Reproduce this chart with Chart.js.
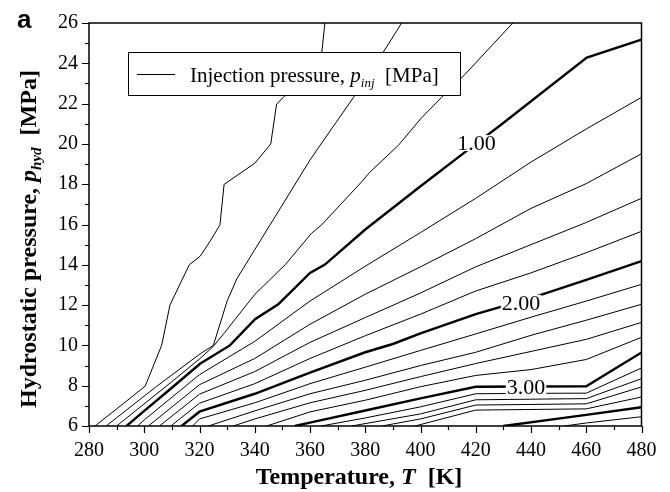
<!DOCTYPE html>
<html>
<head>
<meta charset="utf-8">
<script src="https://cdn.jsdelivr.net/npm/chart.js@4.4.0/dist/chart.umd.min.js"></script>
<style>
body { margin: 0; background: #fff; }
canvas { display: block; background: #fff; }
</style>
</head>
<body>
<canvas id="chart" width="670" height="492"></canvas>
<script>
// contour lines of injection pressure, [T (K), p_hyd (MPa)]
var line04 = [[282.2,6],[300.3,7.97],[306.3,10],[309.3,12],[313.5,13.2],[316.3,14.0],[320.2,14.42],[323.8,15.16],[327.4,15.98],[328.9,17.99],[340.1,19.05],[345.8,20.0],[347.9,21.98],[350.3,22.3],[364.2,24.44],[365.4,26]];
var line06 = [[286.2,6],[304.5,7.97],[320.2,9.58],[325,10],[330,12.2],[333.5,13.3],[340,14.75],[360,19.2],[363,19.8],[375.7,22.3],[386,24.44],[393.2,26]];
var line08 = [[290,6],[310,8.2],[320.2,9.35],[325,9.95],[329.2,10.65],[332.9,11.3],[340.1,12.54],[351,14.0],[360.6,15.57],[364.2,15.98],[378.7,18.12],[381.7,18.6],[392,19.93],[400.4,21.3],[407.6,22.3],[416.1,23.45],[433.4,26]];
var line10 = [[293.6,6],[300,6.75],[310,7.9],[320.2,9.09],[331,10],[340.1,11.3],[348.5,12.04],[360,13.6],[365.4,14.01],[380,15.75],[400,17.9],[420,20.0],[428.8,20.91],[460.2,24.28],[480,25.18]];
var line12 = [[297.6,6],[300,6.3],[320,8.55],[340,10.2],[360,12.2],[380,13.93],[400,15.6],[420,17.3],[440,19.1],[460,20.74],[480,22.31]];
var line14 = [[301.5,6],[320,8.05],[340,9.35],[360,11.05],[380,12.54],[400,13.9],[420,15.3],[440,16.8],[460,18.03],[480,19.51]];
var line16 = [[305.5,6],[320,7.58],[340,8.7],[360,10.15],[380,11.38],[400,12.6],[420,13.9],[440,15.0],[460,16.1],[480,17.3]];
var line18 = [[309.6,6],[320,7.13],[340,8.1],[360,9.35],[380,10.48],[400,11.55],[420,12.7],[440,13.6],[460,14.6],[480,15.66]];
var line20 = [[313.5,6],[320,6.71],[340,7.6],[360,8.65],[380,9.66],[390,10.07],[400,10.6],[420,11.55],[440,12.35],[460,13.25],[480,14.18]];
var line22 = [[317.5,6],[320,6.35],[340,7.15],[360,8.1],[380,8.92],[400,9.75],[420,10.57],[440,11.4],[460,12.2],[480,13.03]];
var line24 = [[323.2,6],[340,6.75],[360,7.6],[380,8.27],[400,9.0],[420,9.66],[440,10.5],[460,11.25],[480,12.04]];
var line26 = [[332.2,6],[340,6.35],[360,7.15],[380,7.77],[400,8.45],[420,9.1],[440,9.7],[460,10.3],[480,11.14]];
var line28 = [[344.3,6],[360,6.7],[380,7.28],[400,7.95],[420,8.51],[440,8.8],[460,9.3],[480,10.4]];
var line30 = [[354.5,6],[360,6.17],[380,6.77],[400,7.37],[420,7.95],[460,7.97],[480,9.65]];
var line32 = [[364,6],[380,6.4],[400,6.95],[420,7.6],[440,7.62],[460,7.63],[480,8.88]];
var line34 = [[375,6],[400,6.6],[420,7.3],[440,7.33],[460,7.36],[480,8.35]];
var line36 = [[386,6],[400,6.35],[420,7.04],[440,7.07],[460,7.1],[480,7.94]];
var line38 = [[398,6],[420,6.79],[440,6.82],[460,6.85],[480,7.44]];
var line40 = [[430,6],[460,6.55],[480,6.93]];
var line42 = [[452,6],[460,6.15],[480,6.46]];

var levels = [0.4, 0.6, 0.8, 1.0, 1.2, 1.4, 1.6, 1.8, 2.0, 2.2, 2.4, 2.6, 2.8, 3.0, 3.2, 3.4, 3.6, 3.8, 4.0, 4.2];
var contourLines = [line04, line06, line08, line10, line12, line14, line16, line18, line20, line22,
                    line24, line26, line28, line30, line32, line34, line36, line38, line40, line42];

// in-line contour labels
var labelTexts = ['1.00', '2.00', '3.00'];
var labelT = [420.3, 436.4, 438.2];
var labelP = [20.04, 12.11, 7.92];

var serif = "'Liberation Serif', 'Times New Roman', serif";

var datasets = contourLines.map(function(pts, i) {
    var thick = Math.abs(levels[i] - Math.round(levels[i])) < 1e-6;
    return {
        label: levels[i].toFixed(2),
        data: pts.map(function(p) { return {x: p[0], y: p[1]}; }),
        showLine: true,
        borderColor: '#000',
        borderWidth: thick ? 2.4 : 1,
        pointRadius: 0,
        fill: false,
        tension: 0
    };
});

function drawRich(ctx, parts, x, y) {
    var total = 0;
    parts.forEach(function(p) {
        ctx.font = p.font;
        p.w = ctx.measureText(p.text).width;
        total += p.w;
    });
    var cx = x - total / 2;
    ctx.textAlign = 'left';
    ctx.textBaseline = 'alphabetic';
    parts.forEach(function(p) {
        ctx.font = p.font;
        ctx.fillText(p.text, cx, y + (p.dy || 0));
        cx += p.w;
    });
}

var decorPlugin = {
    id: 'decor',
    afterDatasetsDraw: function(chart) {
        var ctx = chart.ctx;
        var xs = chart.scales.x, ys = chart.scales.y;
        var area = chart.chartArea;
        ctx.save();
        ctx.fillStyle = '#000';

        // contour labels with a white gap behind
        ctx.font = '22px ' + serif;
        labelTexts.forEach(function(t, i) {
            var px = xs.getPixelForValue(labelT[i]);
            var py = ys.getPixelForValue(labelP[i]);
            var w = ctx.measureText(t).width;
            ctx.fillStyle = '#fff';
            ctx.fillRect(px - w / 2 - 1, py - 8, w + 2, 16);
            ctx.fillStyle = '#000';
            ctx.textAlign = 'center';
            ctx.textBaseline = 'middle';
            ctx.fillText(t, px, py + 1);
        });

        // legend box
        ctx.fillStyle = '#fff';
        ctx.fillRect(128.5, 52.5, 332, 43);
        ctx.strokeStyle = '#000';
        ctx.lineWidth = 1;
        ctx.strokeRect(128.5, 52.5, 332, 43);
        ctx.beginPath();
        ctx.moveTo(137, 74.5);
        ctx.lineTo(175, 74.5);
        ctx.stroke();
        ctx.fillStyle = '#000';
        var legParts = [
            {text: 'Injection pressure, ', font: '21px ' + serif},
            {text: 'p', font: 'italic 21px ' + serif},
            {text: 'inj', font: 'italic 13px ' + serif, dy: 5},
            {text: '  [MPa]', font: '21px ' + serif}
        ];
        var lw = 0;
        legParts.forEach(function(p) { ctx.font = p.font; lw += ctx.measureText(p.text).width; });
        drawRich(ctx, legParts, 190 + lw / 2, 82);

        // frame
        ctx.strokeStyle = '#000';
        ctx.lineWidth = 1.5;
        ctx.strokeRect(area.left, area.top, area.right - area.left, area.bottom - area.top);

        // outside ticks, major and minor
        ctx.lineWidth = 1.2;
        ctx.beginPath();
        for (var t = 280; t <= 480; t += 10) {
            var x = Math.round(xs.getPixelForValue(t)) + 0.5;
            var len = (t % 20 === 0) ? 7 : 4;
            ctx.moveTo(x, area.bottom);
            ctx.lineTo(x, area.bottom + len);
        }
        for (var p = 6; p <= 26; p += 1) {
            var y = Math.round(ys.getPixelForValue(p)) + 0.5;
            var len2 = (p % 2 === 0) ? 7 : 4;
            ctx.moveTo(area.left, y);
            ctx.lineTo(area.left - len2, y);
        }
        ctx.stroke();

        // axis titles
        ctx.fillStyle = '#000';
        drawRich(ctx, [
            {text: 'Temperature, ', font: 'bold 24px ' + serif},
            {text: 'T', font: 'bold italic 24px ' + serif},
            {text: '  [K]', font: 'bold 24px ' + serif}
        ], 359, 484);

        ctx.save();
        ctx.translate(36, 239);
        ctx.rotate(-Math.PI / 2);
        drawRich(ctx, [
            {text: 'Hydrostatic pressure, ', font: 'bold 24px ' + serif},
            {text: 'p', font: 'bold italic 24px ' + serif},
            {text: 'hyd', font: 'bold italic 15px ' + serif, dy: 5},
            {text: '  [MPa]', font: 'bold 24px ' + serif}
        ], 0, 0);
        ctx.restore();

        // panel letter
        ctx.font = "bold 26px 'Liberation Sans', Arial, sans-serif";
        ctx.textAlign = 'left';
        ctx.textBaseline = 'alphabetic';
        ctx.fillText('a', 17, 28);

        ctx.restore();
    }
};

var chart = new Chart(document.getElementById('chart'), {
    type: 'scatter',
    data: { datasets: datasets },
    options: {
        responsive: false,
        animation: false,
        devicePixelRatio: 1,
        layout: { padding: { left: 0, top: 20, right: 28.5, bottom: 0 } },
        plugins: {
            legend: { display: false },
            tooltip: { enabled: false }
        },
        scales: {
            x: {
                type: 'linear',
                min: 280,
                max: 480,
                afterFit: function(s) { s.height = 66; },
                ticks: { stepSize: 20, color: '#000', padding: 13, maxRotation: 0,
                         font: { family: serif, size: 20 } },
                grid: { display: false, drawTicks: false },
                border: { display: false }
            },
            y: {
                type: 'linear',
                min: 6,
                max: 26,
                afterFit: function(s) { s.width = 89; },
                ticks: { stepSize: 2, color: '#000', padding: 11,
                         font: { family: serif, size: 20 } },
                grid: { display: false, drawTicks: false },
                border: { display: false }
            }
        }
    },
    plugins: [decorPlugin]
});
</script>
</body>
</html>
